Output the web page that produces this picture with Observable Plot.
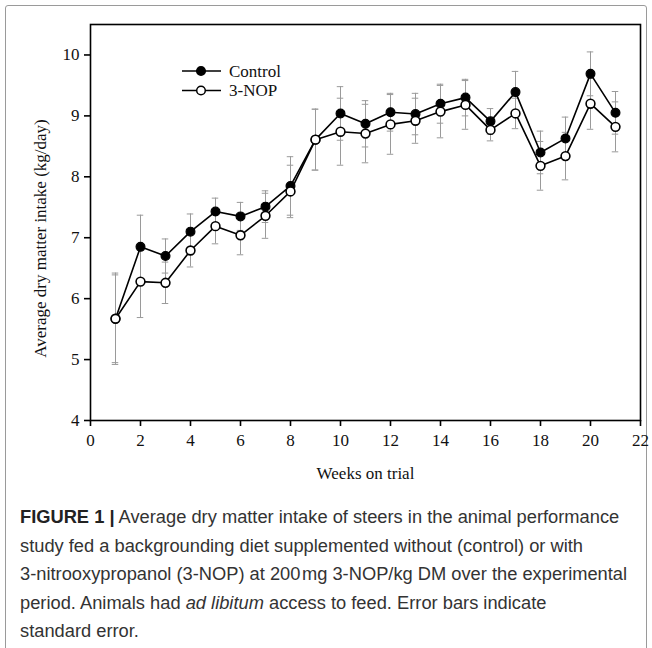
<!DOCTYPE html>
<html>
<head>
<meta charset="utf-8">
<script src="https://cdn.jsdelivr.net/npm/d3@7"></script>
<script src="https://cdn.jsdelivr.net/npm/@observablehq/plot@0.6"></script>
<style>
  html, body { margin: 0; padding: 0; background: #fff; }
  #wrap { position: relative; width: 652px; height: 648px; overflow: hidden; }
  #border { position: absolute; left: 5px; top: 5px; width: 640px; height: 700px; border: 1.5px solid #9a9a9a; border-radius: 3px; }
  #chart { position: absolute; left: 0; top: 0; }
  #legend { position: absolute; left: 178px; top: 60px; }
  #caption { position: absolute; left: 20px; top: 503px; width: 625px; white-space: nowrap; font-family: "Liberation Sans", Arial, sans-serif; font-size: 18.3px; line-height: 28.5px; color: #333; }
  #caption b { color: #222; }
</style>
</head>
<body>
<div id="wrap">
  <div id="border"></div>
  <div id="chart"></div>
  <div id="legend"></div>
  <div id="caption"><b>FIGURE 1 |</b> Average dry matter intake of steers in the animal performance<br>study fed a backgrounding diet supplemented without (control) or with<br>3-nitrooxypropanol (3-NOP) at 200&#8202;mg 3-NOP/kg DM over the experimental<br>period. Animals had <i>ad libitum</i> access to feed. Error bars indicate<br>standard error.</div>
</div>
<script>
const weeks = [1,2,3,4,5,6,7,8,9,10,11,12,13,14,15,16,17,18,19,20,21];
const control = [5.67,6.85,6.70,7.10,7.43,7.35,7.51,7.85,8.61,9.04,8.87,9.06,9.03,9.20,9.30,8.91,9.39,8.40,8.63,9.69,9.05];
const controlSE = [0.75,0.52,0.28,0.29,0.22,0.23,0.26,0.48,0.50,0.44,0.38,0.31,0.34,0.32,0.30,0.21,0.34,0.35,0.35,0.36,0.35];
const nop = [5.67,6.28,6.26,6.79,7.19,7.04,7.36,7.76,8.61,8.74,8.71,8.86,8.92,9.07,9.18,8.77,9.04,8.18,8.34,9.20,8.82];
const nopSE = [0.72,0.59,0.34,0.27,0.29,0.32,0.37,0.43,0.50,0.55,0.48,0.49,0.37,0.43,0.40,0.18,0.25,0.40,0.39,0.42,0.41];
const xTicks = [0,2,4,6,8,10,12,14,16,18,20,22];
const yTicks = [4,5,6,7,8,9,10];
const seriesNames = ["Control", "3-NOP"];
const xLabel = "Weeks on trial";
const yLabel = "Average dry matter intake (kg/day)";

const capHalf = 0.13;
const rows = [];
weeks.forEach((w, i) => {
  rows.push({week: w, series: seriesNames[0], value: control[i], se: controlSE[i]});
});
weeks.forEach((w, i) => {
  rows.push({week: w, series: seriesNames[1], value: nop[i], se: nopSE[i]});
});
const ctl = rows.filter(d => d.series === seriesNames[0]);
const trt = rows.filter(d => d.series === seriesNames[1]);

const serif = "'Liberation Serif', 'Times New Roman', serif";
const errColor = "#9a9a9a";

const chart = Plot.plot({
  width: 652,
  height: 495,
  marginLeft: 90,
  marginRight: 12,
  marginTop: 24,
  marginBottom: 75,
  style: {fontFamily: serif, fontSize: "17px", color: "#111", background: "transparent"},
  x: {domain: [0, 22]},
  y: {domain: [4, 10.5]},
  marks: [
    // error bars
    Plot.ruleX(rows, {x: "week", y1: d => d.value - d.se, y2: d => d.value + d.se, stroke: errColor, strokeWidth: 1}),
    Plot.ruleY(rows, {y: d => d.value + d.se, x1: d => d.week - capHalf, x2: d => d.week + capHalf, stroke: errColor, strokeWidth: 1}),
    Plot.ruleY(rows, {y: d => d.value - d.se, x1: d => d.week - capHalf, x2: d => d.week + capHalf, stroke: errColor, strokeWidth: 1}),
    // lines
    Plot.line(ctl, {x: "week", y: "value", stroke: "#000", strokeWidth: 1.6}),
    Plot.line(trt, {x: "week", y: "value", stroke: "#000", strokeWidth: 1.6}),
    Plot.dot(ctl, {x: "week", y: "value", r: 4.4, fill: "#000", stroke: "#000", strokeWidth: 1.2}),
    Plot.dot(trt, {x: "week", y: "value", r: 4.4, fill: "#fff", stroke: "#000", strokeWidth: 1.6}),
    // frame & axes
    Plot.frame({stroke: "#000", strokeWidth: 1.6}),
    Plot.axisY({ticks: yTicks, tickSize: 6, tickPadding: 5, tickFormat: d => String(d), label: null, stroke: "#000", strokeWidth: 1.6, fontSize: 17, fontFamily: serif, fill: "#111"}),
    Plot.axisX({ticks: xTicks, tickSize: 6, tickPadding: 7, tickFormat: d => String(d), label: null, stroke: "#000", strokeWidth: 1.6, fontSize: 17, fontFamily: serif, fill: "#111"}),
    Plot.text([xLabel], {frameAnchor: "bottom", dy: 58, fontSize: 17, fontFamily: serif, fill: "#111"}),
    Plot.text([yLabel], {frameAnchor: "left", textAnchor: "middle", rotate: -90, dx: -50, dy: 16, fontSize: 17, fontFamily: serif, fill: "#111"})
  ]
});
document.getElementById("chart").appendChild(chart);

// legend
const leg = d3.select("#legend").append("svg").attr("width", 130).attr("height", 44).style("overflow", "visible");
seriesNames.forEach((name, i) => {
  const g = leg.append("g").attr("transform", `translate(0, ${11 + i * 19.5})`);
  g.append("line").attr("x1", 4).attr("x2", 43).attr("y1", 0).attr("y2", 0).attr("stroke", "#000").attr("stroke-width", 1.6);
  g.append("circle").attr("cx", 23).attr("cy", 0).attr("r", 4.3)
    .attr("fill", i === 0 ? "#000" : "#fff").attr("stroke", "#000").attr("stroke-width", 1.5);
  g.append("text").attr("x", 51).attr("y", 0).attr("dy", "0.35em")
    .style("font-family", serif).style("font-size", "17px").attr("fill", "#111").text(name);
});
</script>
</body>
</html>
